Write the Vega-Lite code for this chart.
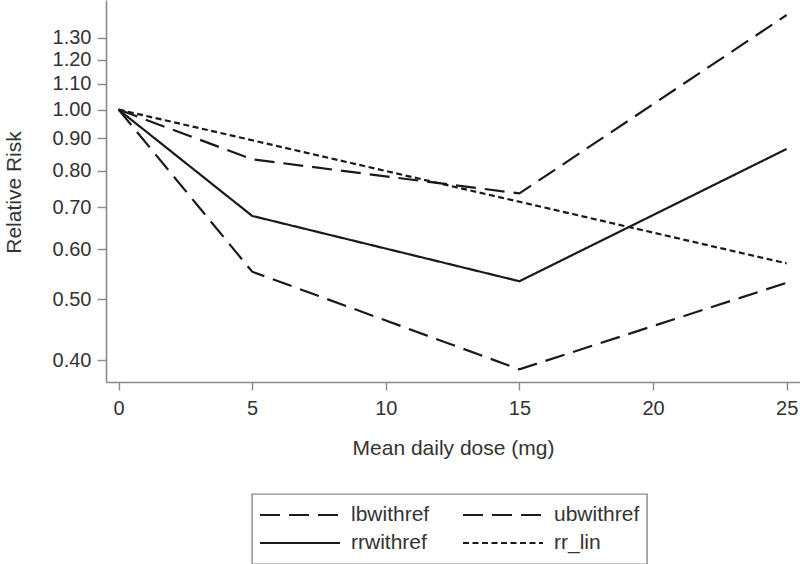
{
  "$schema": "https://vega.github.io/schema/vega-lite/v6.json",
  "autosize": "none",
  "padding": {"left": 106, "top": 0, "right": 0, "bottom": 182},
  "width": 694,
  "height": 382,
  "background": "white",
  "config": {
    "view": {"stroke": null},
    "font": "Liberation Sans",
    "legend": {"strokeWidth": 1.4},
    "axis": {
      "grid": false,
      "domainColor": "#8a8a8a",
      "domainWidth": 1.6,
      "tickColor": "#8a8a8a",
      "tickWidth": 1.4,
      "labelFont": "Liberation Sans",
      "labelFontSize": 20,
      "labelColor": "#333333",
      "titleFont": "Liberation Sans",
      "titleFontSize": 21,
      "titleFontWeight": "normal",
      "titleColor": "#333333"
    }
  },
  "data": {
    "values": [
      {"series": "lbwithref", "dose": 0, "rr": 1.0},
      {"series": "lbwithref", "dose": 5, "rr": 0.553},
      {"series": "lbwithref", "dose": 15, "rr": 0.387},
      {"series": "lbwithref", "dose": 25, "rr": 0.531},
      {"series": "ubwithref", "dose": 0, "rr": 1.0},
      {"series": "ubwithref", "dose": 5, "rr": 0.834},
      {"series": "ubwithref", "dose": 15, "rr": 0.736},
      {"series": "ubwithref", "dose": 25, "rr": 1.413},
      {"series": "rrwithref", "dose": 0, "rr": 1.0},
      {"series": "rrwithref", "dose": 5, "rr": 0.678},
      {"series": "rrwithref", "dose": 15, "rr": 0.534},
      {"series": "rrwithref", "dose": 25, "rr": 0.866},
      {"series": "rr_lin", "dose": 0, "rr": 1.0},
      {"series": "rr_lin", "dose": 5, "rr": 0.894},
      {"series": "rr_lin", "dose": 15, "rr": 0.714},
      {"series": "rr_lin", "dose": 25, "rr": 0.57}
    ]
  },
  "mark": {"type": "line", "strokeWidth": 2.2, "color": "#1a1a1a", "clip": true},
  "encoding": {
    "x": {
      "field": "dose",
      "type": "quantitative",
      "title": "Mean daily dose (mg)",
      "scale": {"domain": [-0.47, 25.5], "nice": false, "zero": false},
      "axis": {
        "values": [0, 5, 10, 15, 20, 25],
        "tickSize": 8,
        "labelPadding": 24,
        "labelBaseline": "alphabetic",
        "titleBaseline": "alphabetic",
        "titleY": 72
      }
    },
    "y": {
      "field": "rr",
      "type": "quantitative",
      "title": "Relative Risk",
      "scale": {"type": "log", "domain": [0.3695, 1.4926], "nice": false, "zero": false},
      "axis": {
        "values": [0.4, 0.5, 0.6, 0.7, 0.8, 0.9, 1.0, 1.1, 1.2, 1.3],
        "format": ".2f",
        "tickSize": 9,
        "labelPadding": 6,
        "titleBaseline": "alphabetic",
        "titleX": -86,
        "titleY": 192
      }
    },
    "detail": {"field": "series"},
    "strokeDash": {
      "field": "series",
      "type": "nominal",
      "scale": {
        "domain": ["lbwithref", "rrwithref", "ubwithref", "rr_lin"],
        "range": [[20, 9], [1, 0], [20, 9], [6, 3.5]]
      },
      "legend": {
        "title": null,
        "orient": "none",
        "legendX": 146,
        "legendY": 494,
        "columns": 2,
        "symbolType": "stroke",
        "symbolSize": 6400,
        "symbolStrokeWidth": 2,
        "symbolStrokeColor": "#1a1a1a",
        "clipHeight": 28,
        "rowPadding": 0,
        "columnPadding": 32,
        "labelOffset": 10,
        "labelFont": "Liberation Sans",
        "labelFontSize": 21,
        "labelColor": "#333333",
        "labelLimit": 0,
        "padding": 7,
        "strokeColor": "#8a8a8a"
      }
    }
  }
}
